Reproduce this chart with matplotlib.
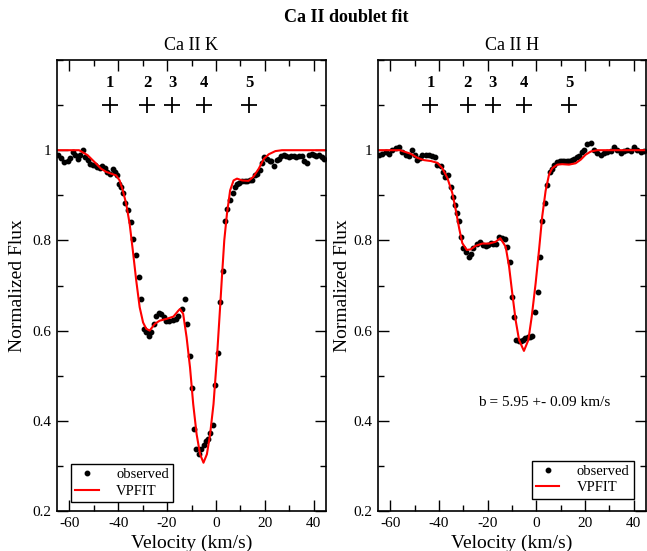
import matplotlib
matplotlib.use('Agg')
import matplotlib.pyplot as plt
from matplotlib.ticker import MultipleLocator, FormatStrFormatter

plt.rcParams['font.family'] = ['Liberation Serif', 'DejaVu Serif']
plt.rcParams['axes.unicode_minus'] = False

# Ca II K : observed points
k_vel = [-64.5, -63.4, -62.1, -60.7, -59.6, -58.6, -57.7, -56.6, -55.5, -54.5,
         -53.6, -52.5, -51.4, -50.4, -49.5, -48.5, -47.4, -46.4, -45.5, -44.4,
         -43.3, -42.3, -41.3, -40.4, -39.6, -38.8, -38.0, -37.1, -36.0, -34.9,
         -33.8, -32.8, -31.6, -30.5, -29.4, -28.5, -27.4, -26.5, -25.5, -24.4,
         -23.4, -22.3, -21.3, -20.5, -19.1, -17.7, -16.4, -15.4, -14.0, -12.8,
         -11.7, -10.8, -9.9, -8.9, -8.0, -7.1, -6.1, -5.0, -4.1, -3.2,
         -2.3, -1.4, -0.2, 0.8, 1.7, 2.8, 3.8, 4.7, 5.7, 6.8,
         7.6, 8.6, 9.5, 10.7, 11.8, 12.7, 13.8, 14.7, 15.8, 16.8,
         17.9, 18.9, 19.8, 20.9, 21.9, 22.7, 23.8, 24.8, 25.7, 26.8,
         27.8, 28.8, 29.8, 30.8, 31.9, 32.8, 33.9, 35.0, 36.0, 37.1,
         38.1, 39.2, 40.1, 41.1, 42.2, 43.3, 44.2]
k_flux = [0.989, 0.983, 0.974, 0.976, 0.983, 0.996, 0.989, 0.981, 0.989, 1.000,
          0.985, 0.978, 0.970, 0.967, 0.967, 0.963, 0.961, 0.964, 0.961, 0.952,
          0.948, 0.959, 0.952, 0.944, 0.926, 0.919, 0.904, 0.883, 0.868, 0.841,
          0.802, 0.767, 0.718, 0.670, 0.604, 0.596, 0.587, 0.596, 0.615, 0.633,
          0.638, 0.637, 0.630, 0.622, 0.622, 0.624, 0.626, 0.633, 0.648, 0.669,
          0.615, 0.544, 0.473, 0.382, 0.337, 0.326, 0.337, 0.347, 0.355, 0.360,
          0.373, 0.390, 0.479, 0.550, 0.664, 0.733, 0.842, 0.870, 0.890, 0.904,
          0.919, 0.926, 0.928, 0.932, 0.932, 0.932, 0.933, 0.934, 0.944, 0.948,
          0.957, 0.972, 0.984, 0.980, 0.976, 0.977, 0.964, 0.978, 0.981, 0.987,
          0.989, 0.988, 0.985, 0.988, 0.988, 0.985, 0.988, 0.988, 0.976, 0.972,
          0.989, 0.992, 0.989, 0.988, 0.989, 0.985, 0.981]

# Ca II K : VPFIT model
k_fit_vel = [-66, -56, -52.5, -49.7, -47.0, -44.9, -42.8, -40.8, -39.4, -38.1,
             -36.7, -35.3, -34.0, -32.6, -31.2, -29.8, -28.5, -27.1, -25.0, -23.0,
             -20.2, -17.4, -15.4, -14.7, -13.4, -12.0, -10.6, -9.3, -7.9, -6.5,
             -5.1, -3.7, -2.4, -1.0, 0.4, 1.7, 2.4, 3.4, 4.5, 5.8,
             7.2, 8.6, 10.7, 13.3, 15.3, 17.5, 19.6, 21.6, 24.3, 27.0, 46]
k_fit_flux = [1.0, 1.0, 0.989, 0.974, 0.959, 0.952, 0.948, 0.944, 0.933, 0.911,
              0.881, 0.837, 0.778, 0.711, 0.652, 0.618, 0.604, 0.600, 0.615, 0.622,
              0.626, 0.631, 0.644, 0.648, 0.637, 0.585, 0.518, 0.437, 0.370, 0.326,
              0.307, 0.326, 0.370, 0.437, 0.540, 0.652, 0.715, 0.800, 0.859, 0.911,
              0.933, 0.937, 0.933, 0.932, 0.941, 0.959, 0.981, 0.991, 0.998, 1.0, 1.0]

# Ca II H : observed points
h_vel = [-64.5, -63.2, -61.8, -60.4, -59.1, -57.7, -56.3, -55.0, -53.6, -52.2,
         -50.9, -49.9, -48.8, -47.7, -46.8, -45.4, -44.0, -42.7, -41.6, -40.6,
         -39.2, -38.3, -37.5, -36.2, -34.9, -34.1, -33.4, -32.5, -31.7, -30.8,
         -30.0, -28.9, -27.6, -26.8, -25.9, -24.5, -23.1, -21.8, -20.8, -19.7,
         -18.7, -17.7, -16.7, -15.3, -14.0, -12.9, -11.9, -10.9, -10.2, -9.2,
         -8.3, -7.2, -6.3, -5.4, -4.5, -3.6, -2.6, -1.6, -0.6, 0.5,
         1.4, 2.4, 3.4, 4.5, 5.4, 6.4, 7.4, 8.5, 9.5, 10.5,
         11.5, 12.6, 13.6, 14.6, 15.5, 16.6, 17.6, 18.6, 19.6, 20.9,
         22.3, 23.6, 25.0, 26.4, 27.7, 29.1, 30.5, 31.8, 33.2, 34.6,
         36.0, 37.3, 38.7, 40.0, 41.4, 42.8, 44.2]
h_flux = [0.990, 0.991, 0.997, 0.991, 1.001, 1.005, 1.007, 0.997, 0.990, 0.988,
          1.001, 0.990, 0.979, 0.983, 0.990, 0.990, 0.990, 0.988, 0.986, 0.968,
          0.964, 0.951, 0.940, 0.944, 0.918, 0.897, 0.879, 0.860, 0.842, 0.808,
          0.783, 0.775, 0.764, 0.770, 0.783, 0.792, 0.797, 0.790, 0.787, 0.790,
          0.795, 0.792, 0.792, 0.808, 0.805, 0.804, 0.785, 0.753, 0.675, 0.631,
          0.580, 0.576, 0.578, 0.580, 0.583, 0.585, 0.586, 0.588, 0.642, 0.686,
          0.763, 0.843, 0.884, 0.923, 0.951, 0.958, 0.968, 0.974, 0.975, 0.975,
          0.976, 0.977, 0.976, 0.978, 0.980, 0.985, 0.988, 0.995, 1.001, 1.014,
          1.016, 1.001, 0.993, 0.990, 0.993, 0.995, 0.998, 1.008, 1.001, 0.993,
          0.998, 1.001, 0.998, 1.006, 1.001, 0.995, 0.998]

# Ca II H : VPFIT model
h_fit_vel = [-66, -56, -51.5, -48.8, -46.1, -43.3, -40.6, -38.6, -36.5, -34.5,
             -33.1, -31.7, -30.4, -28.6, -27.0, -24.9, -22.2, -19.4, -16.7, -14.8,
             -12.6, -11.2, -9.9, -8.5, -7.1, -5.1, -3.3, -1.9, -0.3, 1.1,
             2.4, 3.8, 5.2, 6.5, 8.6, 10.6, 13.4, 16.1, 18.2, 20.2,
             22.3, 25.0, 46]
h_fit_flux = [1.0, 1.0, 0.992, 0.983, 0.978, 0.976, 0.972, 0.960, 0.938, 0.905,
              0.868, 0.827, 0.794, 0.779, 0.780, 0.788, 0.793, 0.793, 0.797, 0.805,
              0.786, 0.742, 0.683, 0.623, 0.579, 0.555, 0.579, 0.631, 0.705, 0.779,
              0.853, 0.910, 0.946, 0.960, 0.968, 0.969, 0.968, 0.971, 0.979, 0.990,
              0.997, 1.0, 1.0]

# velocity components marked above the profiles
comp_vel = [-43.5, -28.2, -17.9, -5.0, 13.5]
comp_flux = [1.1, 1.1, 1.1, 1.1, 1.1]
comp_labels = ['1', '2', '3', '4', '5']

panels = [
    ('Ca II K', k_vel, k_flux, k_fit_vel, k_fit_flux),
    ('Ca II H', h_vel, h_flux, h_fit_vel, h_fit_flux),
]

fig = plt.figure(figsize=(6.47, 5.51), dpi=100)
axes = [fig.add_axes([57 / 647, 40 / 551, 269 / 647, 451 / 551]),
        fig.add_axes([378 / 647, 40 / 551, 268 / 647, 451 / 551])]
ylabel_x = [-0.115, -0.10]

for ax, (name, vel, flux, fvel, fflux), lx in zip(axes, panels, ylabel_x):
    ax.plot(vel, flux, 'o', color='black', ms=3.2, label='observed')
    ax.plot(fvel, fflux, '-', color='red', lw=1.5, label='VPFIT')
    ax.plot(comp_vel, comp_flux, '+', color='black', ms=11, mew=1.3)
    for v, lab in zip(comp_vel, comp_labels):
        ax.text(v, 1.148, lab, ha='center', va='center', fontsize=12,
                fontweight='bold')

    ax.set_xlim(-65, 45)
    ax.set_ylim(0.2, 1.2)
    ax.xaxis.set_major_locator(MultipleLocator(20))
    ax.xaxis.set_minor_locator(MultipleLocator(10))
    ax.yaxis.set_minor_locator(MultipleLocator(0.1))
    ax.set_yticks([0.2, 0.4, 0.6, 0.8, 1.0])
    ax.yaxis.set_major_formatter(FormatStrFormatter('%g'))
    ax.tick_params(which='both', direction='in', top=True, right=True,
                   labelsize=11, width=1.0)
    ax.tick_params(which='major', length=8, pad=4)
    ax.tick_params(which='minor', length=4)
    for sp in ax.spines.values():
        sp.set_linewidth(1.2)

    ax.set_title(name, fontsize=13, pad=7)
    ax.set_xlabel('Velocity (km/s)', fontsize=14)
    ax.set_ylabel('Normalized Flux', fontsize=14)
    ax.xaxis.set_label_coords(0.5, -0.052)
    ax.yaxis.set_label_coords(lx, 0.5)

leg_opts = dict(fontsize=10.5, numpoints=1, handlelength=1.6, fancybox=False,
                edgecolor='black', framealpha=1, borderaxespad=0,
                handletextpad=1.2, borderpad=0.3, labelspacing=0.2)
axes[0].legend(loc='lower left', bbox_to_anchor=(0.052, 0.02), **leg_opts)
axes[1].legend(loc='lower right', bbox_to_anchor=(0.955, 0.027), **leg_opts)

axes[1].text(3.1, 0.44, 'b = 5.95 +- 0.09 km/s', ha='center', va='center',
             fontsize=11)

fig.text(346 / 647, 1 - 18 / 551, 'Ca II doublet fit', ha='center',
         va='center', fontsize=13, fontweight='bold')

fig.savefig('out.png', dpi=100)
